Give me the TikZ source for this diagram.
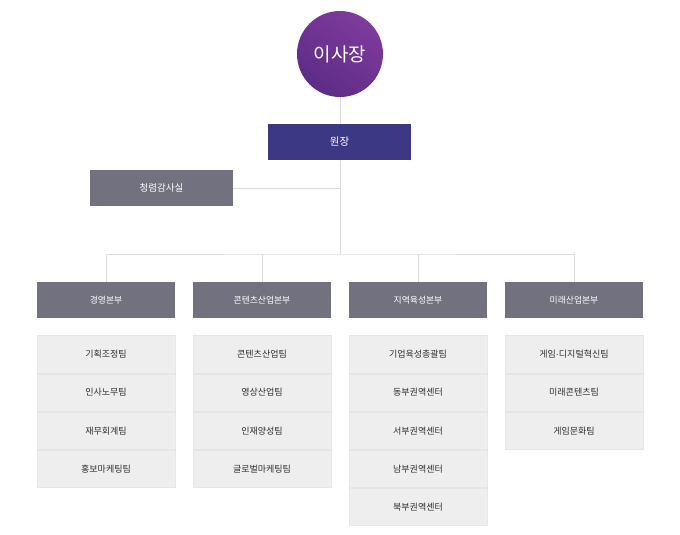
\documentclass[tikz,border=0pt]{standalone}
\usepackage{fontspec}
\setmainfont{Noto Sans CJK KR}
\newfontfamily\dotfont{Liberation Sans}
\usetikzlibrary{positioning}
\definecolor{ceoLight}{HTML}{7F3B9B}
\definecolor{ceoDark}{HTML}{5C2C86}
\definecolor{dirBlue}{HTML}{3D3884}
\definecolor{headGray}{HTML}{72717F}
\definecolor{cellGray}{HTML}{EEEEEE}
\definecolor{cellLine}{HTML}{E6E6E6}
\definecolor{lineGray}{HTML}{DCDCDC}
\definecolor{teamText}{HTML}{2E2E2E}

\begin{document}
\begin{tikzpicture}[x=1pt, y=-1pt,
		line/.style = {draw=lineGray, line width=0.8pt},
		box/.style = {rectangle, inner sep=0pt, text=white, minimum width=143pt, minimum height=36pt},
		head/.style = {rectangle, inner sep=0pt, fill=headGray, text=white, minimum width=138pt, minimum height=36pt, font=\fontsize{8.8}{10}\selectfont},
		team/.style = {rectangle, inner sep=0pt, fill=cellGray, draw=cellLine, line width=0.6pt, text=teamText, minimum width=138pt, minimum height=37.5pt, font=\fontsize{9}{10}\selectfont}
	]
		\useasboundingbox (0,0) rectangle (680,535);
		% top of the chart
		\node[circle, inner sep=0pt, minimum size=86pt, top color=ceoLight, bottom color=ceoDark, shading angle=-35, text=white, font=\fontsize{19}{22}\selectfont] (ceo) at (340,54) {이사장};
		\node[box, fill=dirBlue, font=\fontsize{10.5}{12}\selectfont] (dir) at (339.5,142) {원장};
		\node[box, fill=headGray, font=\fontsize{9.5}{11}\selectfont] (audit) at (161.5,188) {청렴감사실};
		\coordinate (hub) at (340,254);

		% divisions
		\node[head] (mgmt) at (106,300) {경영본부};
		\node[head] (content) at (262,300) {콘텐츠산업본부};
		\node[head] (region) at (418,300) {지역육성본부};
		\node[head] (future) at (574,300) {미래산업본부};

		% teams
		\node[team] (mgmt1) at (106,354.5) {기획조정팀};
		\node[team, below=0pt of mgmt1] (mgmt2) {인사노무팀};
		\node[team, below=0pt of mgmt2] (mgmt3) {재무회계팀};
		\node[team, below=0pt of mgmt3] (mgmt4) {홍보마케팅팀};

		\node[team] (content1) at (262,354.5) {콘텐츠산업팀};
		\node[team, below=0pt of content1] (content2) {영상산업팀};
		\node[team, below=0pt of content2] (content3) {인재양성팀};
		\node[team, below=0pt of content3] (content4) {글로벌마케팅팀};

		\node[team] (region1) at (418,354.5) {기업육성총괄팀};
		\node[team, below=0pt of region1] (region2) {동부권역센터};
		\node[team, below=0pt of region2] (region3) {서부권역센터};
		\node[team, below=0pt of region3] (region4) {남부권역센터};
		\node[team, below=0pt of region4] (region5) {북부권역센터};

		\node[team] (future1) at (574,354.5) {게임{\dotfont ·}디지털혁신팀};
		\node[team, below=0pt of future1] (future2) {미래콘텐츠팀};
		\node[team, below=0pt of future2] (future3) {게임문화팀};

		% connectors
		\draw[line] (ceo) -- (ceo.south |- dir.north);
		\draw[line] (ceo.south |- dir.south) -- (hub);
		\draw[line] (audit.east) -- (audit.east -| hub);
		\draw[line] (mgmt.north) |- (hub) -| (future.north);
		\draw[line] (content.north) -- (content.north |- hub);
		\draw[line] (region.north) -- (region.north |- hub);
	\end{tikzpicture}
\end{document}
